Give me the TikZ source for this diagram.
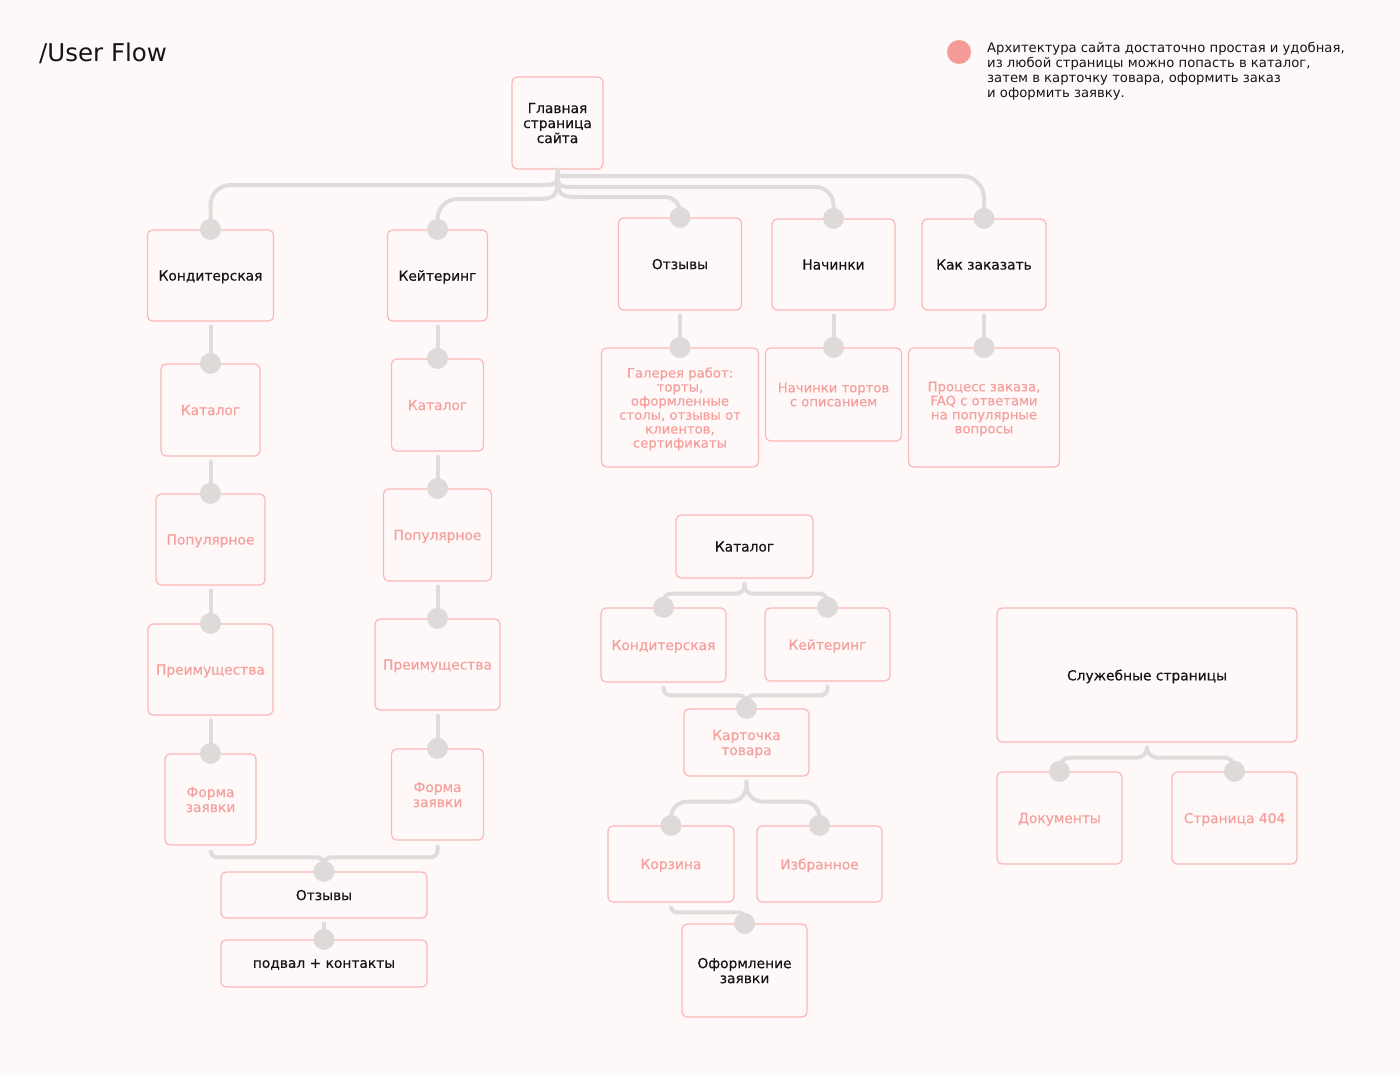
\documentclass[tikz,border=0pt]{standalone}
\usepackage{fontspec}
\setmainfont{DejaVu Sans}
\newfontfamily\medfont{DejaVu Sans}[FakeBold=0.5]
\usetikzlibrary{calc}
\definecolor{bgc}{HTML}{FFF8F8}
\definecolor{boxc}{HTML}{F9B9B7}
\definecolor{pinkt}{HTML}{F4A09C}
\definecolor{linec}{HTML}{E0DCDB}
\definecolor{dotc}{HTML}{DFDADA}
\definecolor{darkt}{HTML}{141414}
\definecolor{legc}{HTML}{F59C99}
\tikzset{
  box/.style={draw=boxc, line width=1.2pt, rounded corners=5pt, inner sep=0pt, align=center, text depth=0pt, font=\medfont\fontsize{13.8}{15}\selectfont},
  darkbox/.style={box, text=darkt},
  pinkbox/.style={box, text=pinkt},
  conn/.style={draw=linec, line width=4pt, line cap=round},
}
\begin{document}
\begin{tikzpicture}[x=1pt,y=-1pt]
\useasboundingbox (0,0) rectangle (1400,1073);
\fill[bgc] (0,0) rectangle (1400,1073);

% title and legend
\node[anchor=west, inner sep=0pt, text=darkt, font=\fontsize{24.5}{28}\selectfont] (title) at (39,53) {/User Flow};
\fill[legc] (959,52) circle (12pt);
\node[anchor=north west, inner sep=0pt, align=left, text=darkt, font=\fontsize{13.2}{15}\selectfont] (legend) at (987,42)
  {Архитектура сайта достаточно простая и удобная,\\из любой страницы можно попасть в каталог,\\затем в карточку товара, оформить заказ\\и оформить заявку.};

% boxes
\node[darkbox, minimum width=91pt, minimum height=92pt] (main) at (557.5,123) {Главная\\страница\\сайта};
\node[darkbox, minimum width=126pt, minimum height=91pt] (kond) at (210.5,275.5) {Кондитерская};
\node[darkbox, minimum width=100pt, minimum height=91pt] (keit) at (437.5,275.5) {Кейтеринг};
\node[darkbox, minimum width=123pt, minimum height=92pt] (otz) at (680,264) {Отзывы};
\node[darkbox, minimum width=123pt, minimum height=91pt] (nach) at (833.5,264.5) {Начинки};
\node[darkbox, minimum width=124pt, minimum height=91pt] (kak) at (984,264.5) {Как заказать};

\node[pinkbox, minimum width=99pt, minimum height=92pt] (kat1) at (210.5,410) {Каталог};
\node[pinkbox, minimum width=109pt, minimum height=91pt] (pop1) at (210.5,539.5) {Популярное};
\node[pinkbox, minimum width=125pt, minimum height=91pt] (pre1) at (210.5,669.5) {Преимущества};
\node[pinkbox, minimum width=91pt, minimum height=91pt] (form1) at (210.5,799.5) {Форма\\заявки};

\node[pinkbox, minimum width=92pt, minimum height=92pt] (kat2) at (437.5,405) {Каталог};
\node[pinkbox, minimum width=108pt, minimum height=92pt] (pop2) at (437.5,535) {Популярное};
\node[pinkbox, minimum width=125pt, minimum height=91pt] (pre2) at (437.5,664.5) {Преимущества};
\node[pinkbox, minimum width=92pt, minimum height=91pt] (form2) at (437.5,794.5) {Форма\\заявки};

\node[darkbox, minimum width=206pt, minimum height=46pt] (otzb) at (324,895) {Отзывы};
\node[darkbox, minimum width=206pt, minimum height=47pt] (podv) at (324,963.5) {подвал + контакты};

\node[pinkbox, minimum width=157pt, minimum height=119pt, font=\medfont\fontsize{13.2}{14}\selectfont] (gal) at (680,407.5) {Галерея работ:\\торты,\\оформленные\\столы, отзывы от\\клиентов,\\сертификаты};
\node[pinkbox, minimum width=136pt, minimum height=93pt, font=\medfont\fontsize{13.2}{14}\selectfont] (nachT) at (833.5,394.5) {Начинки тортов\\с описанием};
\node[pinkbox, minimum width=151pt, minimum height=119pt, font=\medfont\fontsize{13.2}{14}\selectfont] (proc) at (984,407.5) {Процесс заказа,\\FAQ с ответами\\на популярные\\вопросы};

\node[darkbox, minimum width=137pt, minimum height=63pt] (catal) at (744.5,546.5) {Каталог};
\node[pinkbox, minimum width=125pt, minimum height=74pt] (kk) at (663.5,645) {Кондитерская};
\node[pinkbox, minimum width=125pt, minimum height=73pt] (kt) at (827.5,644.5) {Кейтеринг};
\node[pinkbox, minimum width=125pt, minimum height=67pt] (kart) at (746.5,742.5) {Карточка\\товара};
\node[pinkbox, minimum width=126pt, minimum height=76pt] (korz) at (671,864) {Корзина};
\node[pinkbox, minimum width=125pt, minimum height=76pt] (izbr) at (819.5,864) {Избранное};
\node[darkbox, minimum width=125pt, minimum height=93pt] (oform) at (744.5,970.5) {Оформление\\заявки};

\node[darkbox, minimum width=300pt, minimum height=134pt] (sluzh) at (1147,675) {Служебные страницы};
\node[pinkbox, minimum width=125pt, minimum height=92pt] (docs) at (1059.5,818) {Документы};
\node[pinkbox, minimum width=125pt, minimum height=92pt] (p404) at (1234.5,818) {Страница 404};

% connectors from the main page
\draw[conn] (main.south) .. controls (557.5,185) .. (537,185) [rounded corners=20pt] -| (kond.north);
\draw[conn] (main.south) .. controls (557.5,199) .. (530,199) [rounded corners=20pt] -| (keit.north);
\draw[conn] (main.south) .. controls (557.5,176) .. (568,176) [rounded corners=22pt] -| (kak.north);
\draw[conn] (main.south) .. controls (557.5,187) .. (577,187) [rounded corners=18pt] -| (nach.north);
\draw[conn] (main.south) .. controls (557.5,197) .. (585,197) [rounded corners=15pt] -| (otz.north);

% vertical chains
\draw[conn] ([yshift=-5pt]kond.south) -- (kat1.north);
\draw[conn] ([yshift=-5pt]kat1.south) -- (pop1.north);
\draw[conn] ([yshift=-5pt]pop1.south) -- (pre1.north);
\draw[conn] ([yshift=-5pt]pre1.south) -- (form1.north);
\draw[conn] ([yshift=-5pt]keit.south) -- (kat2.north);
\draw[conn] ([yshift=-5pt]kat2.south) -- (pop2.north);
\draw[conn] ([yshift=-5pt]pop2.south) -- (pre2.north);
\draw[conn] ([yshift=-5pt]pre2.south) -- (form2.north);
\draw[conn] ([yshift=-5pt]otz.south) -- (gal.north);
\draw[conn] ([yshift=-5pt]nach.south) -- (nachT.north);
\draw[conn] ([yshift=-5pt]kak.south) -- (proc.north);
\draw[conn] ([yshift=-5pt]otzb.south) -- (podv.north);

% merges and forks
\draw[conn, rounded corners=7pt] ([yshift=-6pt]form1.south) |- ([yshift=14pt]otzb.north) -- (otzb.north);
\draw[conn, rounded corners=7pt] ([yshift=-6pt]form2.south) |- ([yshift=14pt]otzb.north) -- (otzb.north);

\draw[conn, rounded corners=8pt] ([yshift=-5pt]catal.south) -- ++(0,10) -| (kk.north);
\draw[conn, rounded corners=8pt] ([yshift=-5pt]catal.south) -- ++(0,10) -| (kt.north);
\draw[conn, rounded corners=7pt] ([yshift=-5pt]kk.south) |- ([yshift=13pt]kart.north) -- (kart.north);
\draw[conn, rounded corners=7pt] ([yshift=-5pt]kt.south) |- ([yshift=13pt]kart.north) -- (kart.north);

\draw[conn, rounded corners=16pt] ([yshift=-5pt]kart.south) -- ++(0,20) -| (korz.north);
\draw[conn, rounded corners=16pt] ([yshift=-5pt]kart.south) -- ++(0,20) -| (izbr.north);
\draw[conn, rounded corners=6pt] ([yshift=-5pt]korz.south) |- ([yshift=11pt]oform.north) -- (oform.north);

\draw[conn, rounded corners=10pt] ([yshift=-5pt]sluzh.south) -- ++(0,10) -| (docs.north);
\draw[conn, rounded corners=10pt] ([yshift=-5pt]sluzh.south) -- ++(0,10) -| (p404.north);

% dots
\foreach \n in {kond,keit,otz,nach,kak,kat1,pop1,pre1,form1,kat2,pop2,pre2,form2,otzb,podv,gal,nachT,proc,kk,kt,kart,korz,izbr,oform,docs,p404}
  \fill[dotc] (\n.north) circle (10.5pt);
\end{tikzpicture}
\end{document}
